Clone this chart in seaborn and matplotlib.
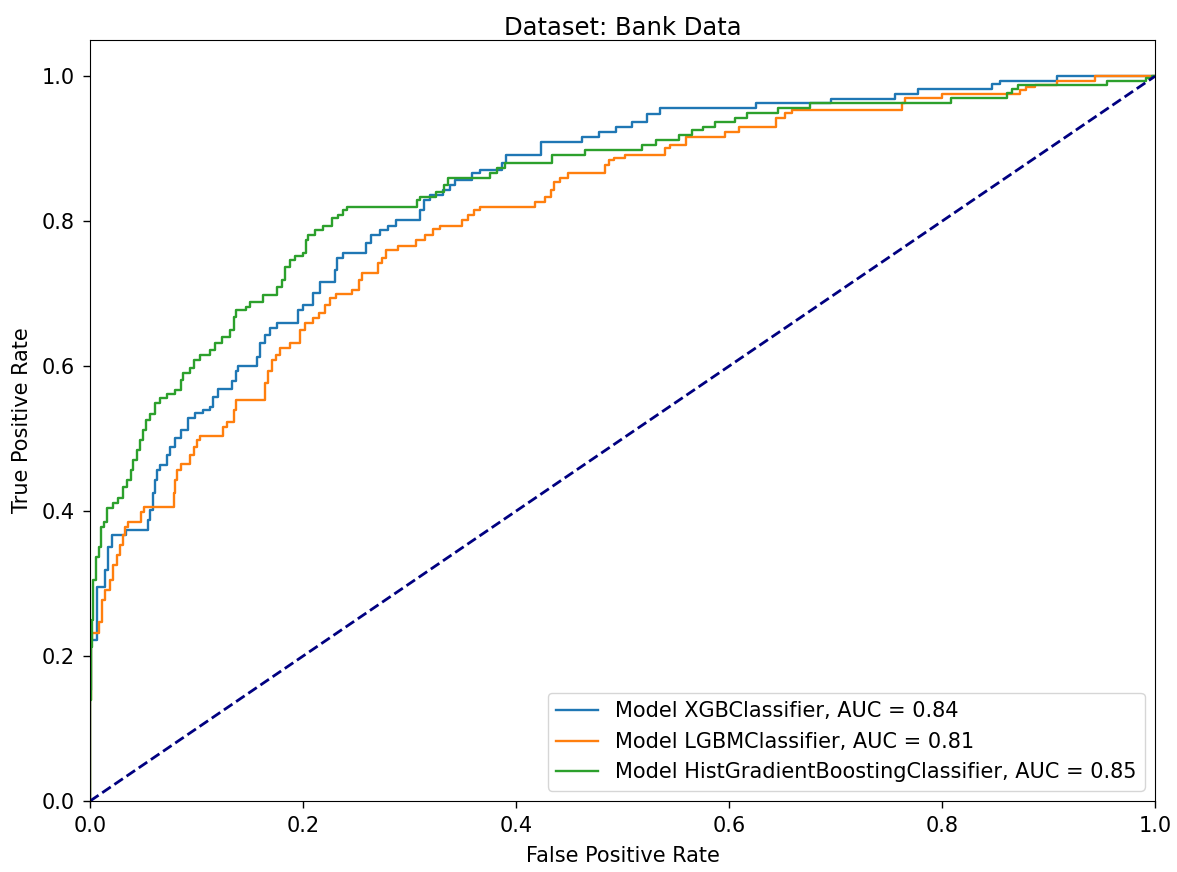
import matplotlib
matplotlib.use("Agg")
import matplotlib.pyplot as plt
import seaborn as sns
import pandas as pd

# ROC curve corner points (false positive rate, true positive rate) per model
xgb_fpr = [0.0, 0.0, 0.001, 0.007, 0.014, 0.017, 0.021, 0.034, 0.054, 0.056, 0.059, 0.061,
           0.063, 0.066, 0.072, 0.075, 0.080, 0.085, 0.092, 0.099, 0.106, 0.113, 0.115, 0.120,
           0.133, 0.137, 0.139, 0.157, 0.160, 0.164, 0.169, 0.176, 0.195, 0.200, 0.209, 0.216,
           0.230, 0.232, 0.238, 0.259, 0.264, 0.272, 0.280, 0.287, 0.310, 0.314, 0.319, 0.331,
           0.338, 0.343, 0.359, 0.366, 0.387, 0.391, 0.423, 0.462, 0.478, 0.494, 0.509, 0.523,
           0.535, 0.625, 0.696, 0.756, 0.777, 0.847, 0.854, 0.908, 1.0]
xgb_tpr = [0.0, 0.153, 0.222, 0.295, 0.319, 0.350, 0.367, 0.374, 0.388, 0.401, 0.425, 0.443,
           0.457, 0.463, 0.477, 0.488, 0.501, 0.512, 0.528, 0.535, 0.539, 0.543, 0.557, 0.568,
           0.579, 0.594, 0.600, 0.612, 0.632, 0.643, 0.652, 0.659, 0.677, 0.684, 0.701, 0.716,
           0.732, 0.749, 0.756, 0.770, 0.781, 0.788, 0.794, 0.801, 0.815, 0.829, 0.836, 0.843,
           0.850, 0.857, 0.866, 0.870, 0.880, 0.891, 0.909, 0.916, 0.923, 0.930, 0.937, 0.948,
           0.956, 0.963, 0.968, 0.975, 0.983, 0.990, 0.994, 1.0, 1.0]

lgbm_fpr = [0.0, 0.0, 0.001, 0.002, 0.008, 0.011, 0.014, 0.019, 0.022, 0.025, 0.028, 0.031,
            0.033, 0.036, 0.048, 0.051, 0.079, 0.080, 0.082, 0.085, 0.094, 0.098, 0.100, 0.103,
            0.125, 0.129, 0.135, 0.137, 0.164, 0.167, 0.171, 0.175, 0.178, 0.188, 0.197, 0.202,
            0.209, 0.215, 0.221, 0.225, 0.231, 0.246, 0.253, 0.255, 0.270, 0.274, 0.278, 0.289,
            0.306, 0.315, 0.322, 0.329, 0.349, 0.355, 0.361, 0.366, 0.418, 0.427, 0.433, 0.436,
            0.441, 0.449, 0.484, 0.487, 0.492, 0.502, 0.540, 0.545, 0.560, 0.596, 0.609, 0.644,
            0.653, 0.659, 0.762, 0.765, 0.800, 0.873, 0.879, 0.887, 0.908, 0.944, 1.0]
lgbm_tpr = [0.0, 0.139, 0.222, 0.232, 0.247, 0.277, 0.291, 0.305, 0.326, 0.339, 0.353, 0.367,
            0.378, 0.385, 0.399, 0.406, 0.425, 0.443, 0.457, 0.465, 0.477, 0.488, 0.498, 0.503,
            0.516, 0.523, 0.539, 0.553, 0.577, 0.594, 0.608, 0.615, 0.625, 0.632, 0.650, 0.659,
            0.666, 0.674, 0.684, 0.694, 0.699, 0.705, 0.719, 0.728, 0.743, 0.749, 0.760, 0.766,
            0.774, 0.781, 0.789, 0.794, 0.801, 0.808, 0.815, 0.819, 0.826, 0.833, 0.843, 0.854,
            0.859, 0.866, 0.877, 0.884, 0.887, 0.891, 0.901, 0.905, 0.916, 0.923, 0.930, 0.942,
            0.949, 0.954, 0.963, 0.970, 0.975, 0.981, 0.985, 0.988, 0.994, 1.0, 1.0]

hgb_fpr = [0.0, 0.0, 0.001, 0.002, 0.003, 0.006, 0.008, 0.010, 0.013, 0.016, 0.022, 0.026,
           0.031, 0.035, 0.038, 0.040, 0.044, 0.047, 0.050, 0.053, 0.056, 0.061, 0.066, 0.072,
           0.080, 0.085, 0.087, 0.094, 0.098, 0.103, 0.113, 0.117, 0.124, 0.131, 0.135, 0.137,
           0.146, 0.150, 0.162, 0.176, 0.180, 0.183, 0.188, 0.192, 0.200, 0.203, 0.205, 0.211,
           0.219, 0.227, 0.233, 0.238, 0.241, 0.307, 0.310, 0.325, 0.332, 0.336, 0.376, 0.382,
           0.390, 0.434, 0.465, 0.518, 0.531, 0.553, 0.565, 0.576, 0.587, 0.606, 0.617, 0.646,
           0.676, 0.808, 0.861, 0.866, 0.871, 0.955, 0.992, 0.997, 1.0]
hgb_tpr = [0.0, 0.139, 0.212, 0.250, 0.305, 0.337, 0.350, 0.378, 0.385, 0.404, 0.411, 0.418,
           0.433, 0.443, 0.457, 0.470, 0.484, 0.498, 0.512, 0.526, 0.534, 0.549, 0.556, 0.561,
           0.567, 0.581, 0.590, 0.597, 0.608, 0.615, 0.622, 0.632, 0.640, 0.650, 0.668, 0.677,
           0.681, 0.688, 0.698, 0.709, 0.719, 0.737, 0.746, 0.752, 0.756, 0.774, 0.781, 0.788,
           0.794, 0.804, 0.808, 0.815, 0.819, 0.829, 0.833, 0.840, 0.850, 0.859, 0.866, 0.873,
           0.880, 0.891, 0.898, 0.905, 0.912, 0.919, 0.926, 0.930, 0.937, 0.942, 0.949, 0.956,
           0.963, 0.970, 0.977, 0.982, 0.988, 0.994, 0.997, 1.0, 1.0]

model_names = ["XGBClassifier", "LGBMClassifier", "HistGradientBoostingClassifier"]
model_auc = [0.84, 0.81, 0.85]
curves = [(xgb_fpr, xgb_tpr), (lgbm_fpr, lgbm_tpr), (hgb_fpr, hgb_tpr)]
colors = ["#1f77b4", "#ff7f0e", "#2ca02c"]

chance = [0.0, 1.0]

plt.rcParams["font.family"] = ["DejaVu Sans"]
plt.rcParams["font.size"] = 15

fig = plt.figure(figsize=(11.77, 8.72), dpi=100)
ax = fig.add_axes([0.0765, 0.0814, 0.9048, 0.8727])

for name, auc, (fpr, tpr), color in zip(model_names, model_auc, curves, colors):
    df = pd.DataFrame({"fpr": fpr, "tpr": tpr})
    sns.lineplot(data=df, x="fpr", y="tpr", ax=ax, estimator=None, sort=False,
                 drawstyle="steps-post", color=color, linewidth=1.7,
                 label=f"Model {name}, AUC = {auc:.2f}")

sns.lineplot(x=chance, y=chance, ax=ax, estimator=None, sort=False,
             color="navy", linewidth=2.0, linestyle="--")

ax.set_xlim(0.0, 1.0)
ax.set_ylim(0.0, 1.05)
ax.set_xticks([0.0, 0.2, 0.4, 0.6, 0.8, 1.0])
ax.set_yticks([0.0, 0.2, 0.4, 0.6, 0.8, 1.0])
ax.tick_params(labelsize=15, length=5, width=1, pad=6)
ax.set_xlabel("False Positive Rate", fontsize=15, labelpad=7)
ax.set_ylabel("True Positive Rate", fontsize=15, labelpad=7)
ax.set_title("Dataset: Bank Data", fontsize=17.5, pad=3)
ax.legend(loc="lower right", fontsize=15)

fig.savefig("out.png", dpi=100)
